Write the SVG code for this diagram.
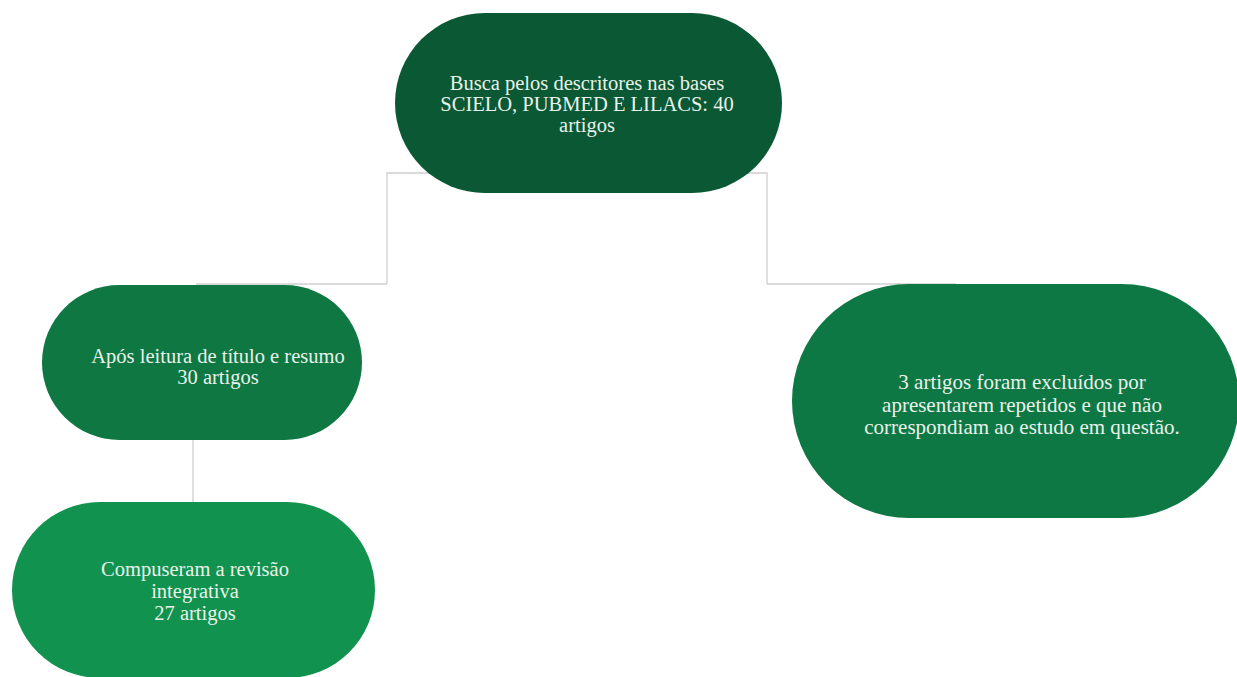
<svg xmlns="http://www.w3.org/2000/svg" width="1237" height="677" viewBox="0 0 1237 677">
<style>
.t{fill:#e9f2ea;text-anchor:middle}
.c{fill:none;stroke:#cfcfcf;stroke-width:1.3}
</style>
<rect width="1237" height="677" fill="#ffffff"/>
<g id="connectors">
<path class="c" d="M387,284 V173 H767 V284"/>
<path class="c" d="M196,284 H387"/>
<path class="c" d="M767,284 H956"/>
<path class="c" d="M193,440 V502"/>
</g>
<g id="n1">
<rect x="395" y="13" width="387" height="180" rx="90" fill="#0a5834"/>
<text class="t" font-family="Liberation Serif, Times New Roman, serif" font-size="20.5"><tspan x="587" y="90">Busca pelos descritores nas bases</tspan><tspan x="587" y="111">SCIELO, PUBMED E LILACS: 40</tspan><tspan x="587" y="132">artigos</tspan></text>
</g>
<g id="n2">
<rect x="42" y="285" width="320" height="155" rx="77.5" fill="#0e7742"/>
<text class="t" font-family="Liberation Serif, Times New Roman, serif" font-size="20.5"><tspan x="218" y="363">Após leitura de título e resumo</tspan><tspan x="218" y="384">30 artigos</tspan></text>
</g>
<g id="n3">
<rect x="12" y="502" width="363" height="176" rx="88" fill="#11924f"/>
<text class="t" font-family="Liberation Serif, Times New Roman, serif" font-size="20.5"><tspan x="195" y="576">Compuseram a revisão</tspan><tspan x="195" y="598">integrativa</tspan><tspan x="195" y="620">27 artigos</tspan></text>
</g>
<g id="n4">
<rect x="792" y="284" width="447" height="234" rx="117" fill="#0e7845"/>
<text class="t" font-family="Liberation Serif, Times New Roman, serif" font-size="21"><tspan x="1022" y="389">3 artigos foram excluídos por</tspan><tspan x="1022" y="411.5">apresentarem repetidos e que não</tspan><tspan x="1022" y="434">correspondiam ao estudo em questão.</tspan></text>
</g>
</svg>
